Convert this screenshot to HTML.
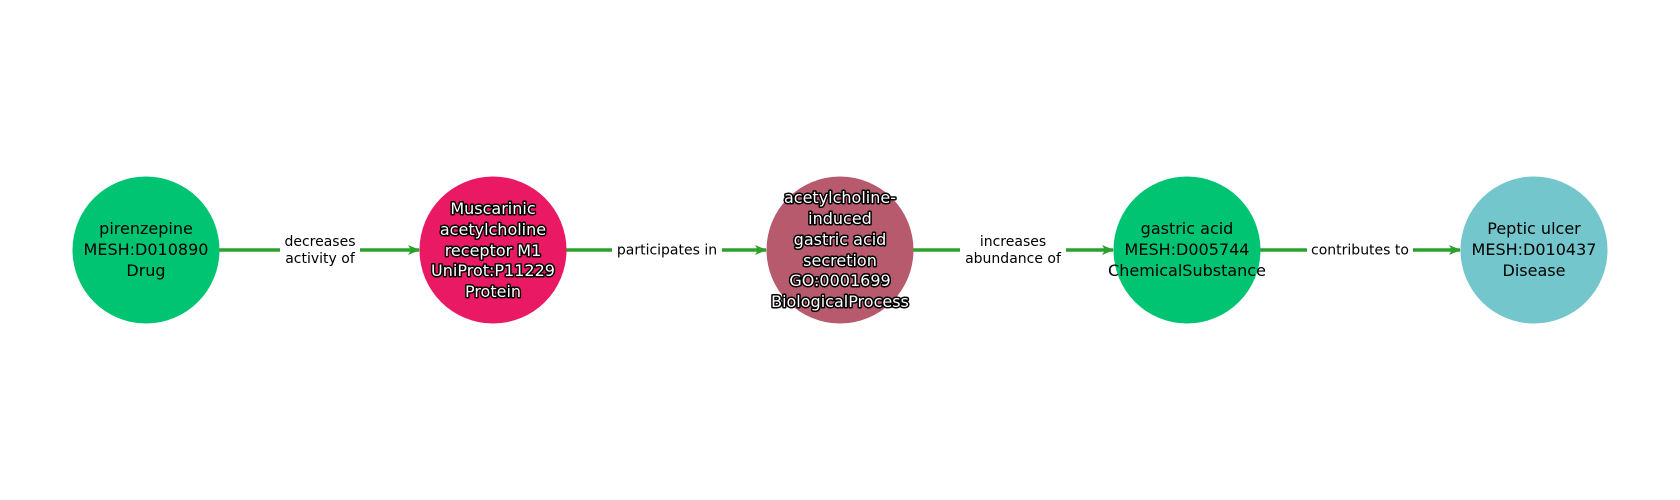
<!DOCTYPE html>
<html><head><meta charset="utf-8"><style>
html,body{margin:0;padding:0;background:#fff;width:1680px;height:500px;overflow:hidden}
svg text{font-family:"DejaVu Sans","Liberation Sans",sans-serif}
.n{font-size:16px;text-anchor:middle;fill:#000}
.w{font-size:16px;text-anchor:middle;fill:#fff;stroke:#000;stroke-width:3px;paint-order:stroke;stroke-linejoin:round}
.e{font-size:14px;text-anchor:middle;fill:#000}
</style></head><body>
<svg width="1680" height="500" viewBox="0 0 1680 500" xmlns="http://www.w3.org/2000/svg">
<defs><marker id="a" markerWidth="12" markerHeight="10" refX="11" refY="5" orient="auto" markerUnits="userSpaceOnUse"><path d="M0,0 L12,5 L0,10 L3,5 z" fill="#2ca02c"/></marker></defs>
<g stroke="#2ca02c" stroke-width="3.5" fill="none">
<line x1="205" y1="250" x2="419" y2="250" marker-end="url(#a)"/>
<line x1="566" y1="250" x2="766" y2="250" marker-end="url(#a)"/>
<line x1="913" y1="250" x2="1113" y2="250" marker-end="url(#a)"/>
<line x1="1260" y1="250" x2="1460" y2="250" marker-end="url(#a)"/>
</g>
<rect x="280" y="232" width="80" height="36" fill="#fff"/>
<rect x="612" y="240" width="110" height="20" fill="#fff"/>
<rect x="960" y="232" width="106" height="36" fill="#fff"/>
<rect x="1307" y="240" width="106" height="20" fill="#fff"/>
<text class="e" x="320" y="246">decreases</text><text class="e" x="320" y="263">activity of</text>
<text class="e" x="667" y="254.5">participates in</text>
<text class="e" x="1013" y="246">increases</text><text class="e" x="1013" y="263">abundance of</text>
<text class="e" x="1360" y="254.5">contributes to</text>
<circle cx="146" cy="250" r="73.5" fill="#00c472"/>
<circle cx="493" cy="250" r="73.5" fill="#e91a63"/>
<circle cx="840" cy="250" r="73.5" fill="#b85a6e"/>
<circle cx="1187" cy="250" r="73.5" fill="#00c472"/>
<circle cx="1534" cy="250" r="73.5" fill="#72c6cc"/>
<text class="n" x="146" y="234">pirenzepine</text>
<text class="n" x="146" y="255">MESH:D010890</text>
<text class="n" x="146" y="276">Drug</text>
<text class="w" x="493" y="214">Muscarinic</text>
<text class="w" x="493" y="235">acetylcholine</text>
<text class="w" x="493" y="256">receptor M1</text>
<text class="w" x="493" y="276">UniProt:P11229</text>
<text class="w" x="493" y="297">Protein</text>
<text class="w" x="840" y="203">acetylcholine-</text>
<text class="w" x="840" y="224">induced</text>
<text class="w" x="840" y="245">gastric acid</text>
<text class="w" x="840" y="266">secretion</text>
<text class="w" x="840" y="286">GO:0001699</text>
<text class="w" x="840" y="307">BiologicalProcess</text>
<text class="n" x="1187" y="234">gastric acid</text>
<text class="n" x="1187" y="255">MESH:D005744</text>
<text class="n" x="1187" y="276">ChemicalSubstance</text>
<text class="n" x="1534" y="234">Peptic ulcer</text>
<text class="n" x="1534" y="255">MESH:D010437</text>
<text class="n" x="1534" y="276">Disease</text>
</svg>
</body></html>
